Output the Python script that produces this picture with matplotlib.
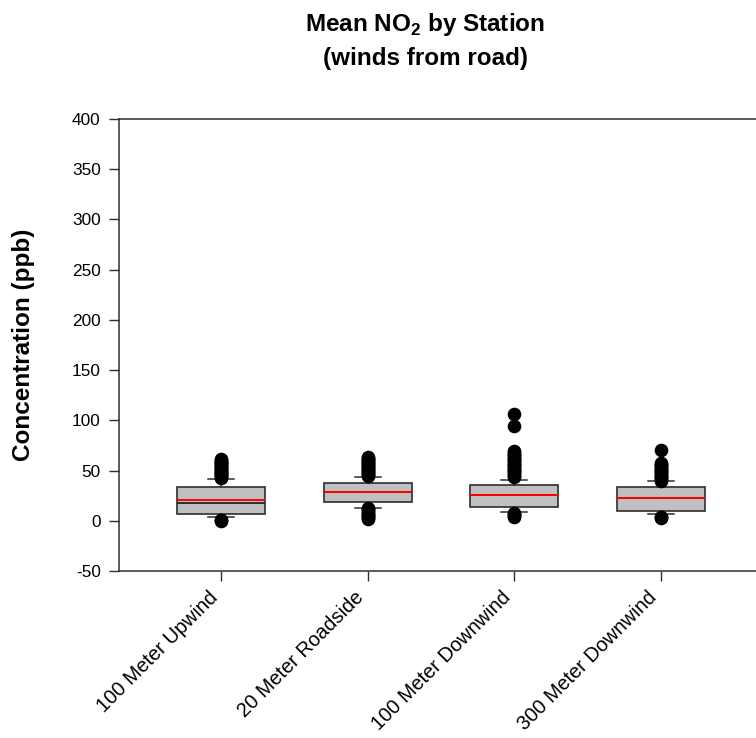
import matplotlib
matplotlib.use("Agg")
import matplotlib.pyplot as plt
import matplotlib.transforms as mtransforms

plt.rcParams['font.family'] = ['Liberation Sans', 'DejaVu Sans']
plt.rcParams['mathtext.fontset'] = 'custom'
plt.rcParams['mathtext.rm'] = 'Liberation Sans'
plt.rcParams['mathtext.bf'] = 'Liberation Sans:bold'
plt.rcParams['axes.unicode_minus'] = False

# station order along the x axis
stations = ['100 Meter Upwind', '20 Meter Roadside', '100 Meter Downwind', '300 Meter Downwind']

# box statistics (ppb)
q1 = [6.5, 18.7, 13.7, 9.8]
q3 = [34.0, 37.9, 35.6, 34.0]
med = [18.0, 28.6, 25.4, 22.8]
mean = [20.7, 29.0, 25.7, 23.0]
whislo = [4.1, 13.0, 9.1, 6.5]
whishi = [41.9, 43.6, 40.9, 39.3]

# outliers, estimated point by point
out_upwind = [0.2, 0.6, 1.0, 42.6, 43.5, 44.4, 45.3, 46.2, 47.1, 48.0, 49.0, 49.9, 50.8,
              51.7, 52.6, 53.5, 54.4, 55.3, 56.2, 57.1, 58.0, 59.0, 60.0, 61.0, 62.0]
out_roadside = [2.0, 3.0, 4.0, 5.0, 6.1, 7.1, 8.2, 9.3, 10.4, 11.5, 12.4,
                44.5, 45.5, 46.5, 47.4, 48.4, 49.4, 50.4, 51.4, 52.4, 53.4, 54.4,
                55.4, 56.4, 57.4, 58.4, 59.4, 60.5, 61.5, 62.5, 63.6]
out_down100 = [4.1, 5.0, 5.9, 6.8, 7.8, 43.6, 44.8, 46.0, 47.2, 48.4, 49.6, 50.8, 52.0,
               53.2, 54.4, 55.6, 56.8, 58.0, 59.2, 60.4, 61.6, 62.8, 64.0, 65.4, 66.8,
               68.2, 69.5, 93.9, 106.3]
out_down300 = [2.8, 3.3, 3.8, 40.0, 41.2, 42.4, 43.6, 44.8, 46.0, 47.2, 48.4, 49.6,
               50.8, 52.0, 53.2, 54.4, 55.6, 56.8, 57.8, 70.5]
outliers = [out_upwind, out_roadside, out_down100, out_down300]

stats = []
for i in range(len(stations)):
    stats.append({'label': stations[i], 'q1': q1[i], 'q3': q3[i], 'med': med[i],
                  'mean': mean[i], 'whislo': whislo[i], 'whishi': whishi[i],
                  'fliers': outliers[i]})

fig = plt.figure(figsize=(7.56, 7.38), dpi=100)
ax = fig.add_axes([118.7 / 756, 1 - 571 / 738, 1 - 118.7 / 756, (571 - 119) / 738])

edge = '#2e2e2e'
ax.bxp(stats, positions=[1, 2, 3, 4], widths=0.6, patch_artist=True,
       showmeans=True, meanline=True, showfliers=True,
       boxprops=dict(facecolor='#c0c0c0', edgecolor=edge, linewidth=1.2),
       medianprops=dict(color='#222222', linewidth=1.3),
       meanprops=dict(color='#ff0000', linestyle='-', linewidth=1.4),
       whiskerprops=dict(color=edge, linewidth=1.1),
       capprops=dict(color=edge, linewidth=1.1),
       capwidths=0.18,
       flierprops=dict(marker='o', markerfacecolor='black', markeredgecolor='black',
                       markersize=8.8, linestyle='none'))

ax.set_xlim(0.3, 4.65)
ax.set_ylim(-50, 400)
ax.set_yticks(range(-50, 401, 50))
ax.set_xticks([1, 2, 3, 4])
ax.set_xticklabels(stations, rotation=45, ha='right', va='top', fontsize=14.4)
shift = mtransforms.ScaledTranslation(5 / 100, 0, fig.dpi_scale_trans)
for lab in ax.get_xticklabels():
    lab.set_transform(lab.get_transform() + shift)

ax.spines['right'].set_visible(False)
for s in ['left', 'bottom', 'top']:
    ax.spines[s].set_color(edge)
    ax.spines[s].set_linewidth(1.1)
ax.tick_params(axis='y', direction='out', length=7, width=1, color=edge,
               labelsize=12.4, pad=6)
ax.tick_params(axis='x', direction='out', length=7, width=1, color=edge, pad=5)

fig.text(24 / 756, 1 - 345 / 738, 'Concentration (ppb)', rotation=90, ha='center',
         va='center', fontsize=17.5, fontweight='bold')
fig.text(425 / 756, 1 - 31 / 738, r'Mean NO$_\mathbf{2}$ by Station', ha='center',
         va='baseline', fontsize=17.5, fontweight='bold')
fig.text(425 / 756, 1 - 65 / 738, '(winds from road)', ha='center', va='baseline',
         fontsize=17.5, fontweight='bold')

fig.savefig('out.png', dpi=100)
